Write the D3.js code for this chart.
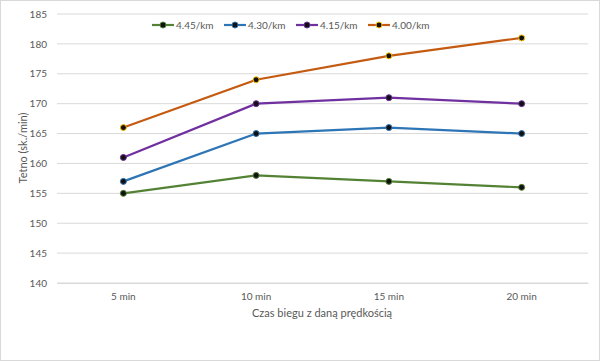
<!DOCTYPE html>
<html><head><meta charset="utf-8">
<script src="https://cdn.jsdelivr.net/npm/d3@7"></script>
<style>body{margin:0;background:#fff}svg{display:block;font-family:Lato,"Open Sans",sans-serif}</style>
</head><body><svg id="c" width="600" height="361"></svg>
<script>
const categories = ["5 min","10 min","15 min","20 min"];
const seriesNames = ["4.45/km","4.30/km","4.15/km","4.00/km"];
const s445 = [155,158,157,156];
const s430 = [157,165,166,165];
const s415 = [161,170,171,170];
const s400 = [166,174,178,181];
const yTicks = [140,145,150,155,160,165,170,175,180,185];
const colors = ["#548235","#2e75b6","#7030a0","#c55a11"];
const markerStroke = ["#548235","#2e75b6","#7030a0","#ffc000"];
const series = [s445,s430,s415,s400];

const svg = d3.select("#c");
svg.append("rect").attr("x",0.5).attr("y",0.5).attr("width",599).attr("height",360).attr("fill","#fff").attr("stroke","#d9d9d9");
const x = d3.scaleBand().domain(categories).range([57,588]);
const y = d3.scaleLinear().domain([140,185]).range([283,14]);

const g = svg.append("g");
g.selectAll("line.grid").data(yTicks).join("line").attr("class","grid")
 .attr("x1",57).attr("x2",588).attr("y1",d=>y(d)).attr("y2",d=>y(d))
 .attr("stroke","#d9d9d9").attr("stroke-width",1);

const yAxis = svg.append("g").attr("transform","translate(57,0)")
 .call(d3.axisLeft(y).tickValues(yTicks).tickSize(0).tickPadding(10));
yAxis.select(".domain").remove();
yAxis.selectAll("text").attr("fill","#595959").style("font-size","10px").style("font-family","Lato");

const xAxis = svg.append("g").attr("transform","translate(0,283)")
 .call(d3.axisBottom(x).tickSize(0).tickPadding(10));
xAxis.select(".domain").attr("stroke","#d9d9d9");
xAxis.selectAll("text").attr("fill","#595959").style("font-size","10px").style("font-family","Lato");

svg.append("text").attr("x",322).attr("y",317).attr("text-anchor","middle")
 .attr("fill","#595959").style("font-size","11px").text("Czas biegu z daną prędkością");
svg.append("text").attr("transform","translate(27,148) rotate(-90)").attr("text-anchor","middle")
 .attr("fill","#595959").style("font-size","11px").text("Tetno (sk./min)");

const line = d3.line().x((d,i)=>x(categories[i])+x.bandwidth()/2).y(d=>y(d));
series.forEach((s,k)=>{
  svg.append("path").datum(s).attr("d",line).attr("fill","none").attr("stroke",colors[k]).attr("stroke-width",2.2);
  svg.selectAll(null).data(s).join("circle")
   .attr("cx",(d,i)=>x(categories[i])+x.bandwidth()/2).attr("cy",d=>y(d)).attr("r",3)
   .attr("fill","#111").attr("stroke",markerStroke[k]).attr("stroke-width",1);
});

const leg = svg.append("g").attr("transform","translate(152,25)");
seriesNames.forEach((n,k)=>{
  const gx = k*72;
  leg.append("line").attr("x1",gx).attr("x2",gx+22).attr("y1",0).attr("y2",0).attr("stroke",colors[k]).attr("stroke-width",2.2);
  leg.append("circle").attr("cx",gx+11).attr("cy",0).attr("r",3).attr("fill","#111").attr("stroke",markerStroke[k]);
  leg.append("text").attr("x",gx+24).attr("y",3.5).attr("fill","#595959").style("font-size","10px").text(n);
});
</script></body></html>
